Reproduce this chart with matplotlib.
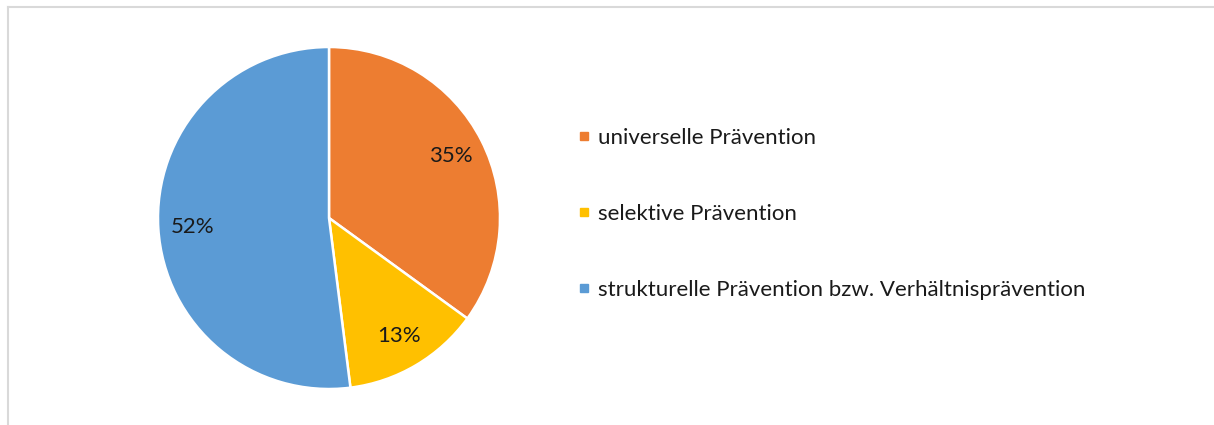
import matplotlib
matplotlib.use("Agg")
import matplotlib.pyplot as plt
from matplotlib.lines import Line2D

labels = ["universelle Prävention", "selektive Prävention",
          "strukturelle Prävention bzw. Verhältnisprävention"]
values = [35, 13, 52]
colors = ["#ED7D31", "#FFC000", "#5B9BD5"]

plt.rcParams["font.family"] = ["Lato", "DejaVu Sans"]

W, H = 1214, 425
fig = plt.figure(figsize=(W / 100, H / 100), dpi=100)

# pie axes: centre ~ (329, 218), radius ~171 px
cx, cy, r = 329, 218, 171
ax = fig.add_axes([(cx - r) / W, (H - cy - r) / H, 2 * r / W, 2 * r / H])
wedges, texts, autotexts = ax.pie(
    values, colors=colors, startangle=90, counterclock=False,
    autopct="%1.0f%%", pctdistance=0.8, radius=1,
    wedgeprops=dict(edgecolor="white", linewidth=1.8),
    textprops=dict(fontsize=16, color="#1a1a1a"))
ax.set_xlim(-1, 1)
ax.set_ylim(-1, 1)
ax.set_aspect("equal")

handles = [Line2D([], [], marker="s", linestyle="", markersize=6,
                  markerfacecolor=c, markeredgecolor=c) for c in colors]
fig.legend(handles, labels, loc="center left",
           bbox_to_anchor=(558 / W, (H - 214) / H), frameon=False,
           fontsize=16, labelspacing=2.52, handlelength=0.5,
           handletextpad=0.4, labelcolor="#1a1a1a")

# partial frame of the original chart area (top and left only)
fig.add_artist(Line2D([8 / W, 1], [1 - 7 / H, 1 - 7 / H], color="#d9d9d9",
                      linewidth=1.5, transform=fig.transFigure))
fig.add_artist(Line2D([8 / W, 8 / W], [0, 1 - 7 / H], color="#d9d9d9",
                      linewidth=1.5, transform=fig.transFigure))

fig.savefig("out.png", dpi=100)
